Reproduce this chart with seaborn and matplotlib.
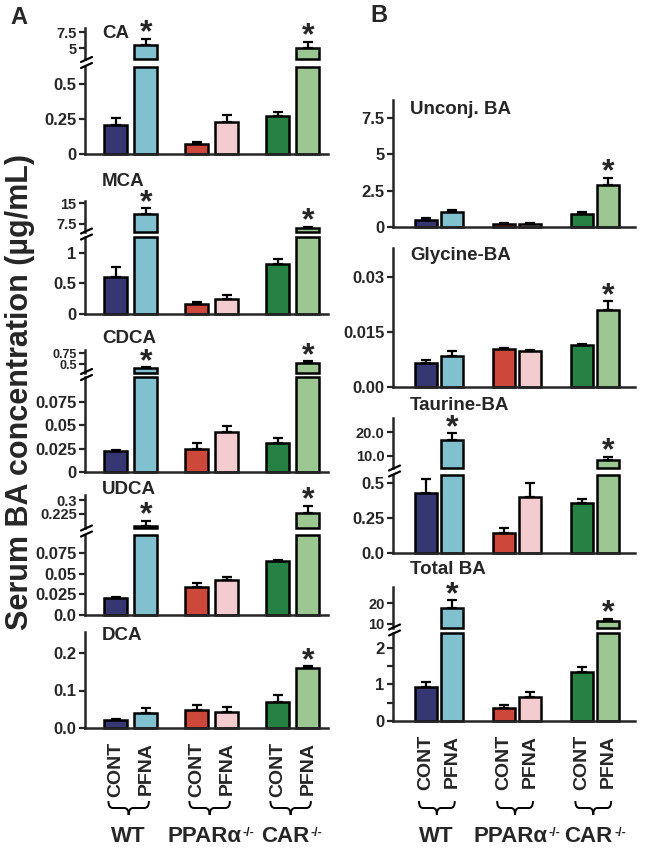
import numpy as np
import pandas as pd
import matplotlib
matplotlib.use('Agg')
import matplotlib.pyplot as plt
import seaborn as sns
from matplotlib.path import Path
from matplotlib.patches import PathPatch
from matplotlib.lines import Line2D
import matplotlib.transforms as mtransforms

# groups / treatments
conditions = ['WT CONT', 'WT PFNA', 'PPAR CONT', 'PPAR PFNA', 'CAR CONT', 'CAR PFNA']
treat_labels = ['CONT', 'PFNA', 'CONT', 'PFNA', 'CONT', 'PFNA']
genotypes = ['WT', 'PPARα', 'CAR']
genotype_sup = ['', '-/-', '-/-']
bar_colors = ['#2b2c7c', '#74c8dc', '#e63323', '#f8c6c9', '#17903f', '#98d089']

# panel A (ug/mL, mean and SEM)
ca_mean = [0.21, 5.5, 0.07, 0.23, 0.27, 5.0]
ca_sem = [0.05, 1.0, 0.016, 0.05, 0.03, 1.0]
ca_sig = [False, True, False, False, False, True]

mca_mean = [0.6, 10.9, 0.17, 0.25, 0.82, 6.0]
mca_sem = [0.17, 2.2, 0.03, 0.06, 0.08, 0.4]
mca_sig = [False, True, False, False, False, True]

cdca_mean = [0.0225, 0.41, 0.025, 0.043, 0.031, 0.52]
cdca_sem = [0.001, 0.02, 0.006, 0.006, 0.006, 0.05]
cdca_sig = [False, True, False, False, False, True]

udca_mean = [0.0207, 0.156, 0.034, 0.043, 0.066, 0.23]
udca_sem = [0.0015, 0.03, 0.005, 0.003, 0.001, 0.04]
udca_sig = [False, True, False, False, False, True]

dca_mean = [0.021, 0.041, 0.049, 0.044, 0.07, 0.16]
dca_sem = [0.003, 0.012, 0.012, 0.012, 0.017, 0.005]
dca_sig = [False, False, False, False, False, True]

# panel B
unconj_mean = [0.45, 1.05, 0.2, 0.22, 0.9, 2.9]
unconj_sem = [0.15, 0.12, 0.05, 0.05, 0.1, 0.5]
unconj_sig = [False, False, False, False, False, True]

gly_mean = [0.0066, 0.0085, 0.0103, 0.0098, 0.0115, 0.021]
gly_sem = [0.0009, 0.0013, 0.0004, 0.0002, 0.0002, 0.0025]
gly_sig = [False, False, False, False, False, True]

tau_mean = [0.43, 16.5, 0.14, 0.4, 0.36, 8.3]
tau_sem = [0.1, 3.1, 0.04, 0.1, 0.025, 1.3]
tau_sig = [False, True, False, False, False, True]

total_mean = [0.93, 18.0, 0.36, 0.66, 1.34, 11.5]
total_sem = [0.14, 3.5, 0.08, 0.13, 0.14, 1.0]
total_sig = [False, True, False, False, False, True]

W, H = 650, 850
sns.set_style('white')
plt.rcParams['font.family'] = ['Liberation Sans', 'DejaVu Sans']
plt.rcParams['font.weight'] = 'bold'

fig = plt.figure(figsize=(W / 100, H / 100), dpi=100)


def px_axes(left, right, top, bottom):
    return fig.add_axes([left / W, 1 - bottom / H, (right - left) / W, (bottom - top) / H])


def positions(group_gap):
    return [g * group_gap + t for g in range(3) for t in range(2)]


def style_axes(ax, xlim, ylim, ticks, labels, upper=False, fs=12):
    ax.set_xlim(*xlim)
    ax.set_ylim(*ylim)
    ax.set_yticks(ticks, labels)
    ax.set_xlabel('')
    ax.set_ylabel('')
    for s in ['top', 'right']:
        ax.spines[s].set_visible(False)
    ax.spines['left'].set_linewidth(1.8)
    ax.spines['bottom'].set_linewidth(1.8)
    if upper:
        ax.spines['bottom'].set_visible(False)
    ax.set_xticks([])
    ax.tick_params(axis='y', direction='out', length=4, width=1.6,
                   labelsize=fs, pad=2, left=True)
    for t in ax.get_yticklabels():
        t.set_fontweight('bold')
    ax.patch.set_alpha(0)


def draw_bars(ax, mean, sem, pos, width, ylim, upper=False):
    df = pd.DataFrame({'pos': pos, 'value': mean, 'cond': conditions})
    sns.barplot(data=df, x='pos', y='value', hue='cond', hue_order=conditions,
                palette=dict(zip(conditions, bar_colors)), native_scale=True,
                dodge=False, width=width, errorbar=None, edgecolor='black',
                linewidth=1.8, legend=False, ax=ax)
    lo, hi = ylim
    for patch, v in zip(ax.patches, mean):
        if upper:
            if v <= lo:
                patch.set_visible(False)
            else:
                patch.set_y(lo)
                patch.set_height(v - lo)
        elif v > hi:
            patch.set_height(hi)
        patch.set_clip_on(False)
    ax.errorbar(pos, mean, yerr=[np.zeros(len(mean)), sem], fmt='none',
                ecolor='black', elinewidth=1.6, capsize=3.5, capthick=1.6, zorder=1)


def add_stars(ax, mean, sem, sig, pos):
    for x, m, e, s in zip(pos, mean, sem, sig):
        if s:
            ax.annotate('*', xy=(x, m + e), xytext=(0, -2), textcoords='offset points',
                        ha='center', va='baseline', fontsize=23, fontweight='bold',
                        annotation_clip=False)


def break_marks(x_px, y_px):
    for dy in (-3, 3):
        y = y_px + dy
        fig.add_artist(Line2D([(x_px - 4) / W, (x_px + 7) / W],
                              [1 - (y + 2) / H, 1 - (y - 3) / H],
                              transform=fig.transFigure, color='black', lw=1.6))


def make_panel(x_left, x_right, xlim, pos, width, mean, sem, sig, title, title_y,
               lower_px, lower_ylim, lower_ticks, lower_labels,
               upper_px=None, upper_ylim=None, upper_ticks=None, upper_labels=None,
               upper_fs=10.5):
    ax_lo = px_axes(x_left, x_right, lower_px[0], lower_px[1])
    draw_bars(ax_lo, mean, sem, pos, width, lower_ylim)
    style_axes(ax_lo, xlim, lower_ylim, lower_ticks, lower_labels)
    top_ax = ax_lo
    if upper_px is not None:
        ax_up = px_axes(x_left, x_right, upper_px[0], upper_px[1])
        draw_bars(ax_up, mean, sem, pos, width, upper_ylim, upper=True)
        style_axes(ax_up, xlim, upper_ylim, upper_ticks, upper_labels, upper=True, fs=upper_fs)
        break_marks(x_left, (upper_px[1] + lower_px[0]) / 2)
        top_ax = ax_up
    add_stars(top_ax, mean, sem, sig, pos)
    fig.text((x_left + 17) / W, 1 - title_y / H, title, fontsize=13.5,
             fontweight='bold', va='center', ha='left')
    return ax_lo


def bottom_labels(ax, pos):
    ax.set_xticks(pos, treat_labels, rotation=90)
    ax.tick_params(axis='x', length=0, pad=10, labelsize=14)
    for t in ax.get_xticklabels():
        t.set_fontweight('bold')
    tr = mtransforms.blended_transform_factory(ax.transData, fig.transFigure)
    y0 = 1 - 801 / H
    h = 14 / H
    for g in range(3):
        x0, x1 = pos[2 * g] - 0.25, pos[2 * g + 1] + 0.1
        xm = (x0 + x1) / 2
        d = 0.15
        verts = [(x0, y0), (x0, y0 - h / 2), (x0 + d, y0 - h / 2),
                 (xm - d, y0 - h / 2),
                 (xm, y0 - h / 2), (xm, y0 - h),
                 (xm, y0 - h / 2), (xm + d, y0 - h / 2),
                 (x1 - d, y0 - h / 2),
                 (x1, y0 - h / 2), (x1, y0)]
        codes = [Path.MOVETO, Path.CURVE3, Path.CURVE3, Path.LINETO,
                 Path.CURVE3, Path.CURVE3, Path.CURVE3, Path.CURVE3,
                 Path.LINETO, Path.CURVE3, Path.CURVE3]
        fig.add_artist(PathPatch(Path(verts, codes), transform=tr, fill=False,
                                 lw=1.4, edgecolor='black'))
        xc = (pos[2 * g] + pos[2 * g + 1]) / 2
        shift = -0.25 if genotype_sup[g] else -0.1
        main = fig.text(xc + shift, 1 - 836 / H, genotypes[g], transform=tr,
                        ha='center', va='center', fontsize=16, fontweight='bold')
        if genotype_sup[g]:
            ax.annotate(genotype_sup[g], xy=(1.0, 0.92), xycoords=main,
                        xytext=(1, 0), textcoords='offset points',
                        ha='left', va='top', fontsize=9, fontweight='bold',
                        annotation_clip=False)


# ---- panel A ----
pos_a = positions(2.7)
xlim_a = (-1.03, 7.07)
wa = 0.77
make_panel(85, 328, xlim_a, pos_a, wa, ca_mean, ca_sem, ca_sig, 'CA', 33,
           (67, 154), (0, 0.62), [0, 0.25, 0.5], ['0', '0.25', '0.5'],
           (28, 59), (3.3, 8.2), [5, 7.5], ['5', '7.5'])
make_panel(85, 328, xlim_a, pos_a, wa, mca_mean, mca_sem, mca_sig, 'MCA', 181,
           (237, 314), (0, 1.26), [0, 0.5, 1], ['0', '0.5', '1'],
           (201, 232), (4.5, 15.8), [7.5, 15], ['7.5', '15'])
make_panel(85, 328, xlim_a, pos_a, wa, cdca_mean, cdca_sem, cdca_sig, 'CDCA', 338,
           (377, 472), (0, 0.102), [0, 0.025, 0.05, 0.075], ['0', '0.025', '0.05', '0.075'],
           (350, 373), (0.3, 0.82), [0.5, 0.75], ['0.5', '0.75'], upper_fs=9)
make_panel(85, 328, xlim_a, pos_a, wa, udca_mean, udca_sem, udca_sig, 'UDCA', 490,
           (535, 615), (0, 0.0975), [0, 0.025, 0.05, 0.075], ['0.0', '0.025', '0.05', '0.075'],
           (495, 528), (0.144, 0.33), [0.225, 0.3], ['0.225', '0.3'])
ax_dca = make_panel(85, 328, xlim_a, pos_a, wa, dca_mean, dca_sem, dca_sig, 'DCA', 636,
                    (632, 728), (0, 0.256), [0, 0.1, 0.2], ['0.0', '0.1', '0.2'])
bottom_labels(ax_dca, pos_a)

# ---- panel B ----
pos_b = positions(2.95)
xlim_b = (-1.23, 7.9)
wb = 0.83
make_panel(393, 635, xlim_b, pos_b, wb, unconj_mean, unconj_sem, unconj_sig, 'Unconj. BA', 110,
           (100, 227), (0, 8.75), [0, 2.5, 5, 7.5], ['0', '2.5', '5', '7.5'])
make_panel(393, 635, xlim_b, pos_b, wb, gly_mean, gly_sem, gly_sig, 'Glycine-BA', 256,
           (248, 387), (0, 0.038), [0, 0.015, 0.03], ['0.00', '0.015', '0.03'])
make_panel(393, 635, xlim_b, pos_b, wb, tau_mean, tau_sem, tau_sig, 'Taurine-BA', 405,
           (475, 553), (0, 0.557), [0, 0.25, 0.5], ['0.0', '0.25', '0.5'],
           (418, 468), (4.8, 26), [10, 20], ['10.0', '20.0'])
ax_tot = make_panel(393, 635, xlim_b, pos_b, wb, total_mean, total_sem, total_sig, 'Total BA', 570,
                    (633, 721), (0, 2.4), [0, 0.5, 1, 1.5, 2], ['0', '', '1', '', '2'],
                    (587, 628), (8, 28), [10, 20], ['10', '20'])
bottom_labels(ax_tot, pos_b)

fig.text(20 / W, 1 - 392 / H, 'Serum BA concentration (µg/mL)', rotation=90,
         ha='center', va='center', fontsize=22, fontweight='bold')
fig.text(10 / W, 1 - 18 / H, 'A', fontsize=17, fontweight='bold', va='center')
fig.text(370 / W, 1 - 16 / H, 'B', fontsize=17, fontweight='bold', va='center')

fig.savefig('out.png', dpi=100)
